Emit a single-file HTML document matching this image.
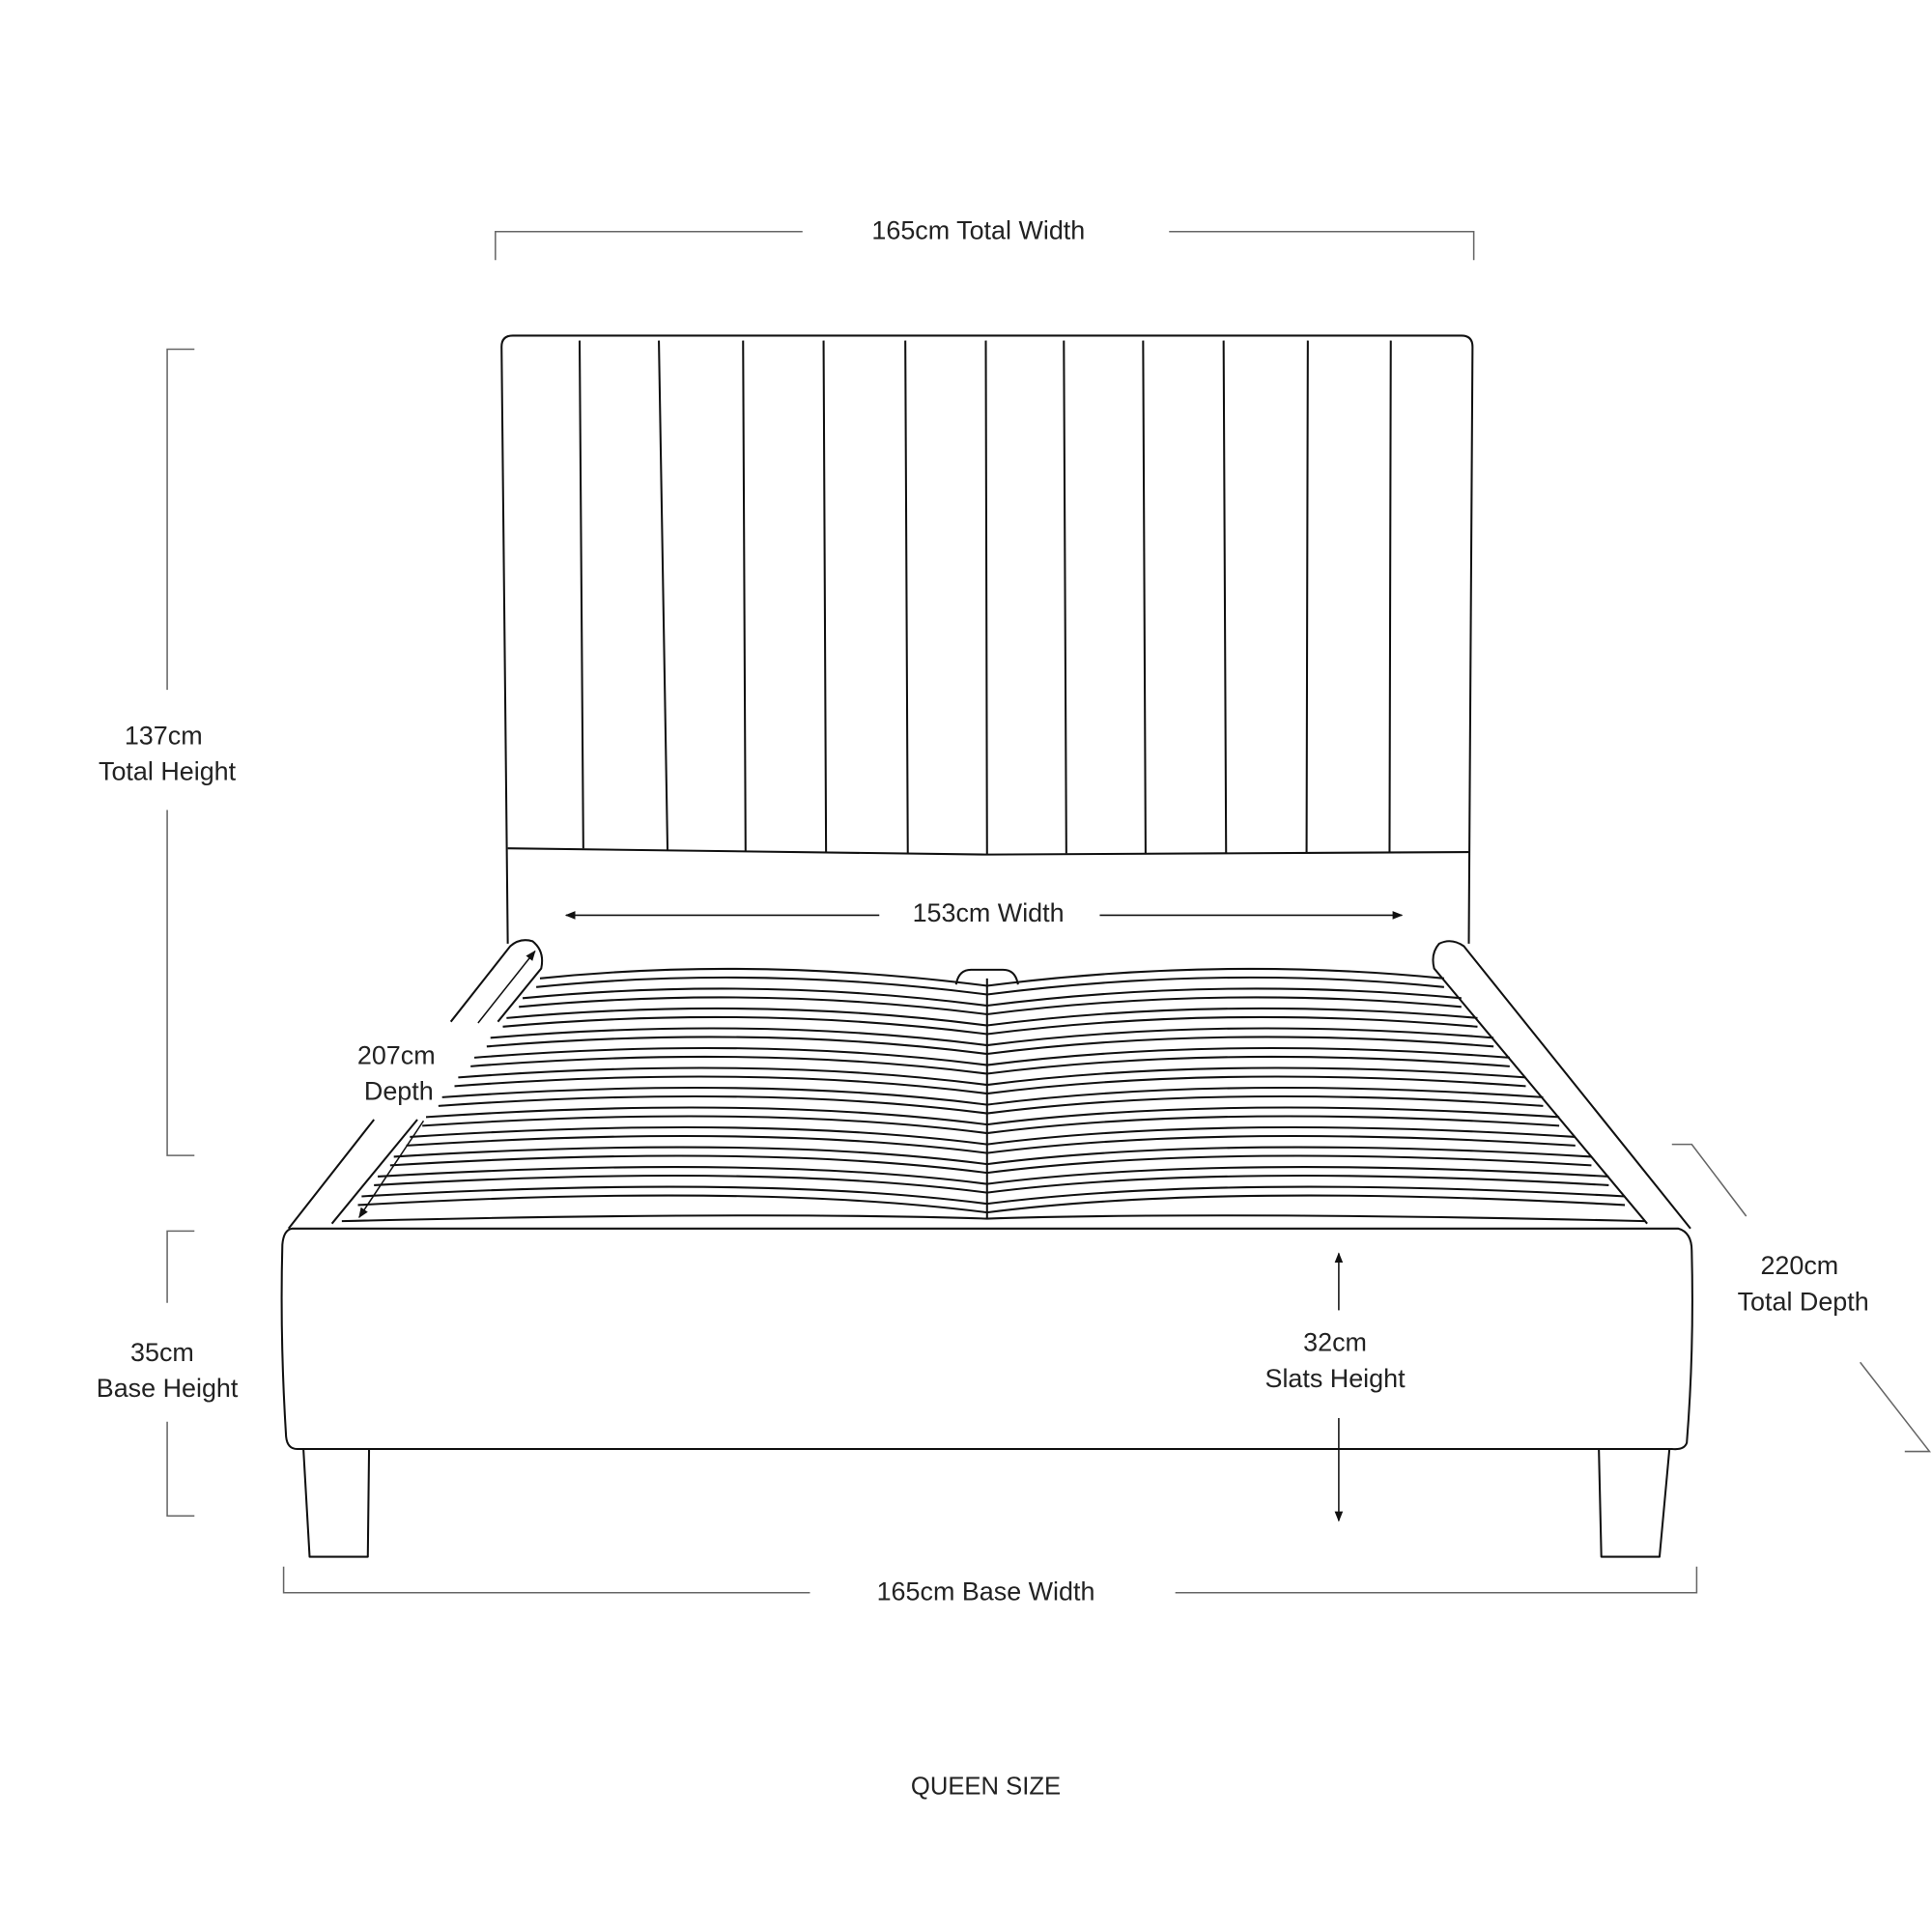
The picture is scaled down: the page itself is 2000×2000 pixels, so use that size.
<!DOCTYPE html>
<html><head><meta charset="utf-8"><style>
html,body{margin:0;padding:0;background:#fff;}
svg{display:block;}
text{font-family:"Liberation Sans",sans-serif;font-size:21px;fill:#222;text-anchor:middle;}
</style></head><body>
<svg width="2000" height="2000" viewBox="0 0 1560 1560" xmlns="http://www.w3.org/2000/svg">
<defs>
<marker id="ah" viewBox="0 0 10 10" refX="9" refY="5" markerWidth="7" markerHeight="7" orient="auto-start-reverse"><path d="M0,1 L10,5 L0,9 z" fill="#111"/></marker>
</defs>
<g stroke="#666" stroke-width="1.2" fill="none">
<path d="M400,210 V187 H648 M944,187 H1190 V210"/>
<path d="M157,282 H135 V557 M135,654 V933 H157"/>
<path d="M157,994 H135 V1052 M135,1148 V1224 H157"/>
<path d="M229,1265 V1286 H654 M949,1286 H1370 V1265"/>
<path d="M1350,924 H1366 L1410,982"/>
<path d="M1502,1100 L1558,1172 H1538"/>
</g>
<g stroke="#111" stroke-width="1.6" fill="none" stroke-linejoin="round">
<path d="M410,762 L405,280 Q405,271 414,271 H1180 Q1189,271 1189,280 L1186,762"/>
<path d="M410,685 L797,690 L1186,688"/>
<path d="M468,275 L471,685 M532,275 L539,686 M600,275 L602,687 M665,275 L667,688 M731,275 L733,689 M796,275 L797,690 M859,275 L861,689 M923,275 L925,689 M988,275 L990,689 M1056,275 L1055,688 M1123,275 L1122,688"/>
<!-- left rail with gap -->
<path d="M233,992 L302,904 M364,825 L412,764 Q420,757 430,760 Q440,768 437,782 L402,825 M337,904 L268,988"/>
<!-- right rail -->
<path d="M1365,992 L1182,764 Q1172,757 1162,762 Q1155,770 1158,782 L1330,988"/>
<path d="M236,992 H1355 Q1366,995 1366,1010 Q1368,1090 1362,1165 Q1360,1171 1350,1170 H240 Q232,1170 231,1160 Q226,1080 228,1005 Q229,993 236,992 Z"/>
<path d="M245,1170 L250,1257 H297 L298,1170"/>
<path d="M1291,1170 L1293,1257 H1340 L1348,1170"/>
<path d="M436,790 Q610,772 797,796 Q985,772 1166,790 M433,797 Q610,779 797,803 Q985,779 1166,797"/>
<path d="M422,806 Q610,788 797,812 Q985,788 1180,806 M419,813 Q610,795 797,819 Q985,795 1180,813"/>
<path d="M409,822 Q610,804 797,828 Q985,804 1193,822 M406,829 Q610,811 797,835 Q985,811 1193,829"/>
<path d="M396,838 Q610,820 797,844 Q985,820 1206,838 M393,845 Q610,827 797,851 Q985,827 1206,845"/>
<path d="M383,854 Q610,836 797,860 Q985,836 1219,854 M380,861 Q610,843 797,867 Q985,843 1219,861"/>
<path d="M370,870 Q610,852 797,876 Q985,852 1232,870 M367,877 Q610,859 797,883 Q985,859 1232,877"/>
<path d="M357,886 Q610,868 797,892 Q985,868 1246,886 M354,893 Q610,875 797,899 Q985,875 1246,893"/>
<path d="M344,902 Q610,884 797,908 Q985,884 1259,902 M341,909 Q610,891 797,915 Q985,891 1259,909"/>
<path d="M331,918 Q610,900 797,924 Q985,900 1272,918 M328,925 Q610,907 797,931 Q985,907 1272,925"/>
<path d="M318,934 Q610,916 797,940 Q985,916 1285,934 M315,941 Q610,923 797,947 Q985,923 1285,941"/>
<path d="M305,950 Q610,932 797,956 Q985,932 1299,950 M302,957 Q610,939 797,963 Q985,939 1299,957"/>
<path d="M292,966 Q610,948 797,972 Q985,948 1312,966 M289,973 Q610,955 797,979 Q985,955 1312,973"/>
<path d="M276,986 Q610,978 797,984 Q985,978 1328,986"/>
<path d="M797,790 V984"/>
<path d="M772,795 Q774,783 784,783 H810 Q820,783 822,795"/>
</g>
<g stroke="#111" stroke-width="1.2" fill="none">
<path d="M710,739 H457" marker-end="url(#ah)"/>
<path d="M888,739 H1132" marker-end="url(#ah)"/>
<path d="M1081,1058 V1012" marker-end="url(#ah)"/>
<path d="M1081,1145 V1228" marker-end="url(#ah)"/>
<path d="M386,826 L432,768" marker-end="url(#ah)"/>
<path d="M342,905 L290,983" marker-end="url(#ah)"/>
</g>
<text x="132" y="601">137cm</text>
<text x="135" y="630">Total Height</text>
<text x="790" y="193">165cm Total Width</text>
<text x="798" y="744">153cm Width</text>
<text x="131" y="1099">35cm</text>
<text x="135" y="1128">Base Height</text>
<text x="320" y="859">207cm</text>
<text x="322" y="888">Depth</text>
<text x="1078" y="1091">32cm</text>
<text x="1078" y="1120">Slats Height</text>
<text x="1453" y="1029">220cm</text>
<text x="1456" y="1058">Total Depth</text>
<text x="796" y="1292">165cm Base Width</text>
<text x="796" y="1449" style="font-size:20px">QUEEN SIZE</text>
</svg>
</body></html>
